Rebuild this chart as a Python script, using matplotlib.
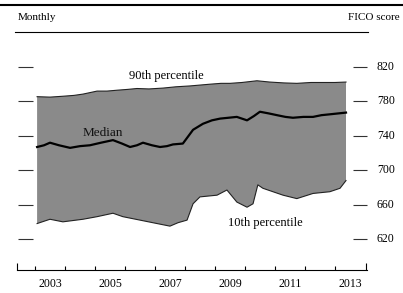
import matplotlib
matplotlib.use("Agg")
import matplotlib.pyplot as plt
from matplotlib.lines import Line2D

plt.rcParams["font.family"] = ["Liberation Serif", "DejaVu Serif"]

# 90th percentile (upper edge of band)
top_t = [2003.07, 2003.5, 2003.93, 2004.3, 2004.6, 2005.07, 2005.4, 2005.73, 2006.1, 2006.4,
         2006.8, 2007.27, 2007.7, 2008.17, 2008.5, 2008.83, 2009.2, 2009.5, 2009.9, 2010.4,
         2010.83, 2011.3, 2011.73, 2012.2, 2012.6, 2013.0, 2013.37]
top_v = [785.5, 785, 786, 787, 788.5, 792, 792, 793, 794, 795,
         794.5, 795.5, 797, 798, 799, 800, 801, 801, 802, 804,
         802.5, 801.5, 801, 802, 802, 802, 802.5]

# median
med_t = [2003.07, 2003.3, 2003.5, 2003.8, 2004.17, 2004.5, 2004.83, 2005.2, 2005.6, 2005.9,
         2006.17, 2006.4, 2006.6, 2006.9, 2007.17, 2007.4, 2007.6, 2007.93, 2008.1, 2008.27,
         2008.6, 2008.9, 2009.17, 2009.45, 2009.73, 2010.07, 2010.3, 2010.5, 2010.8, 2011.07,
         2011.35, 2011.6, 2011.95, 2012.27, 2012.55, 2012.83, 2013.1, 2013.37]
med_v = [727, 729, 732, 729, 726, 728, 729, 732, 735, 731,
         727, 729, 732, 729, 727, 728, 730, 731, 739, 747,
         754, 758, 760, 761, 762, 758, 763, 768, 766, 764,
         762, 761, 762, 762, 764, 765, 766, 767]

# 10th percentile (lower edge of band)
bot_t = [2003.07, 2003.5, 2003.93, 2004.6, 2005.07, 2005.6, 2005.93, 2006.5, 2007.07, 2007.5,
         2007.77, 2008.07, 2008.27, 2008.5, 2009.07, 2009.4, 2009.73, 2010.07, 2010.27, 2010.43,
         2010.6, 2011.27, 2011.73, 2012.27, 2012.83, 2013.17, 2013.37]
bot_v = [638, 643, 640, 643, 646, 650, 646, 642, 638, 635,
         639, 642, 661, 669, 671, 677, 663, 657, 661, 683,
         679, 671, 667, 673, 675, 679, 688]

yticks = [620, 660, 700, 740, 780, 820]
year_bounds = list(range(2003, 2014))
year_labels = [2003, 2005, 2007, 2009, 2011, 2013]

W, H = 403, 293
fig = plt.figure(figsize=(W / 100, H / 100), dpi=100)
ax = fig.add_axes([17 / W, (H - 270) / H, 350 / W, 230 / H])
x0, x1 = 2002.4, 2014.07
ax.set_xlim(x0, x1)
ax.set_ylim(584, 851.4)

# band: polygon from the upper edge and the reversed lower edge
poly_t = top_t + bot_t[::-1]
poly_v = top_v + bot_v[::-1]
ax.fill(poly_t, poly_v, color="#8a8a8a", lw=0)
ax.plot(top_t, top_v, color="#222222", lw=0.8)
ax.plot(bot_t, bot_v, color="#222222", lw=0.8)
ax.plot(med_t, med_v, color="black", lw=1.6)

# horizontal tick dashes on both sides
ax.hlines(yticks, 2002.43, 2002.93, color="#333333", lw=0.8, clip_on=False)
ax.hlines(yticks, 2013.6, 2014.07, color="#333333", lw=0.8, clip_on=False)
for v in yticks:
    ax.text(2014.4, v, str(v), ha="left", va="center", fontsize=8.5, clip_on=False)

# bottom axis
for s in ["top", "left", "right"]:
    ax.spines[s].set_visible(False)
ax.spines["bottom"].set_linewidth(0.8)
ax.set_yticks([])
ax.set_xticks(year_bounds)
ax.set_xticklabels([])
ax.tick_params(axis="x", direction="in", length=3, width=0.8)
ax.vlines([x0, x1 - 0.02], 584, 584 + 8, color="black", lw=0.8, clip_on=False)
for y in year_labels:
    ax.text(y + 0.5, 575, str(y), ha="center", va="top", fontsize=8.5, clip_on=False)

# series labels
ax.text(2007.37, 809.5, "90th percentile", ha="center", va="center", fontsize=9)
ax.text(2005.27, 743, "Median", ha="center", va="center", fontsize=9.5, color="#111111")
ax.text(2010.67, 638.5, "10th percentile", ha="center", va="center", fontsize=9)

# header
fig.add_artist(Line2D([0, 1], [1 - 5 / H, 1 - 5 / H], color="black", lw=1.5))
fig.add_artist(Line2D([15 / W, 368 / W], [1 - 32 / H, 1 - 32 / H], color="black", lw=0.8))
fig.text(18 / W, 1 - 18 / H, "Monthly", ha="left", va="center", fontsize=8)
fig.text(400 / W, 1 - 18 / H, "FICO score", ha="right", va="center", fontsize=8)

fig.savefig("out.png", dpi=100)
